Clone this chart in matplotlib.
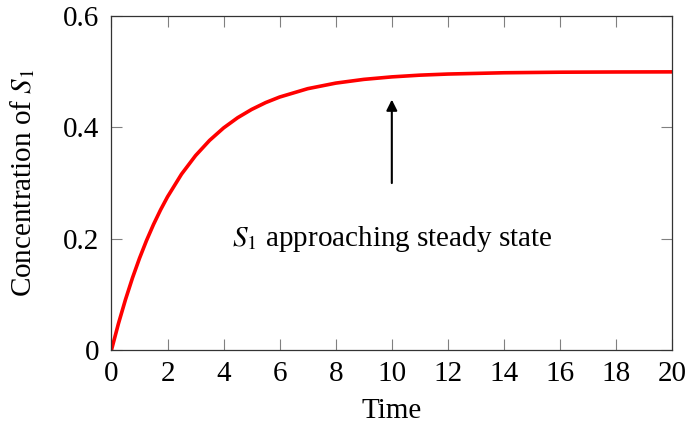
import matplotlib
matplotlib.use("Agg")
import matplotlib.pyplot as plt

plt.rcParams["font.family"] = ["Liberation Serif", "DejaVu Serif"]
plt.rcParams["mathtext.fontset"] = "stix"

# Concentration of S1 over time
time = [0, 0.25, 0.5, 0.75, 1, 1.25, 1.5, 1.75, 2, 2.5, 3, 3.5, 4, 4.5, 5, 5.5,
        6, 7, 8, 9, 10, 11, 12, 14, 16, 18, 20]
conc = [0.0, 0.0476, 0.0906, 0.1296, 0.1648, 0.1967, 0.2256, 0.2517, 0.2753,
        0.3161, 0.3494, 0.3767, 0.3991, 0.4174, 0.4323, 0.4446, 0.4546, 0.4696,
        0.4796, 0.4863, 0.4908, 0.4939, 0.4959, 0.4982, 0.4992, 0.4996, 0.4998]

x_ticks = list(range(0, 21, 2))
y_ticks = [0, 0.2, 0.4, 0.6]
y_tick_labels = ["0", "0.2", "0.4", "0.6"]

arrow_x = 10
arrow_start = 0.30
arrow_end = 0.45
note_y = 0.20
note_text = r"$S_1$ approaching steady state"

FS = 21

fig = plt.figure(figsize=(6.88, 4.24), dpi=100)
ax = fig.add_axes([0.162, 0.1745, 0.815, 0.7875])

ax.plot(time, conc, color="#ff0000", linewidth=2.6, solid_capstyle="round")

ax.annotate("", xy=(arrow_x, arrow_end), xytext=(arrow_x, arrow_start),
            arrowprops=dict(arrowstyle="-|>", color="black", lw=1.5,
                            mutation_scale=16, shrinkA=0, shrinkB=0))
ax.text(arrow_x, note_y, note_text, ha="center", va="center", fontsize=FS)

ax.set_xlim(0, 20)
ax.set_ylim(0, 0.6)
ax.set_xticks(x_ticks)
ax.set_yticks(y_ticks)
ax.set_yticklabels(y_tick_labels)

ax.tick_params(direction="in", length=8, width=0.8, color="#808080",
               top=True, right=True, labelsize=FS)
ax.tick_params(axis="x", pad=8)
ax.tick_params(axis="y", pad=9)
for s in ax.spines.values():
    s.set_linewidth(0.9)
    s.set_color("#333333")

ax.set_xlabel("Time", fontsize=FS, labelpad=8)
ax.set_ylabel(r"Concentration of $S_1$", fontsize=FS, labelpad=18)

fig.savefig("out.png", dpi=100)
